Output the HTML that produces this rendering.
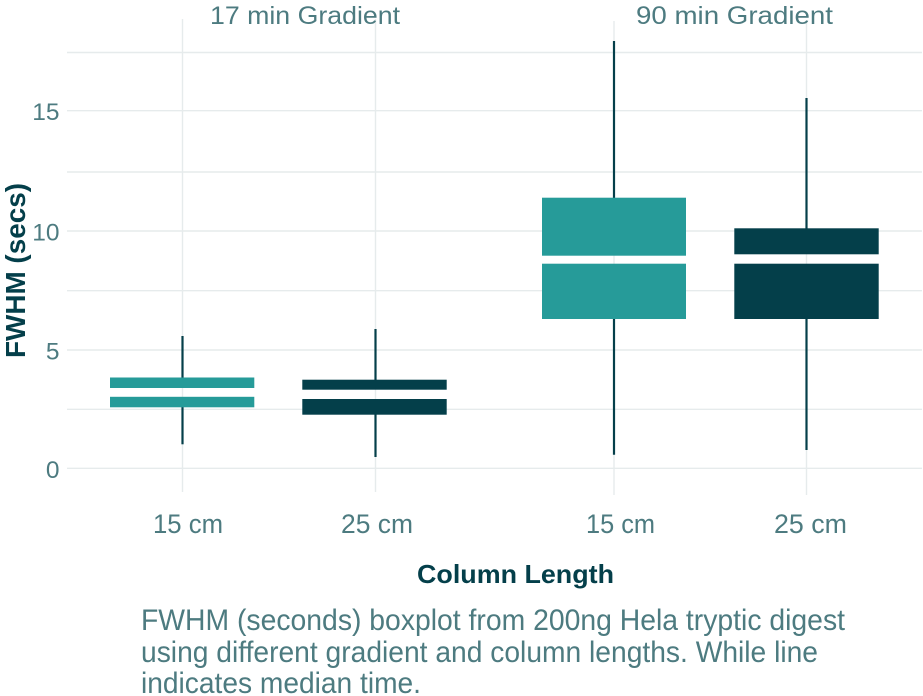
<!DOCTYPE html>
<html>
<head>
<meta charset="utf-8">
<style>
html,body{margin:0;padding:0;background:#ffffff;}
svg{display:block;}
text{font-family:"Liberation Sans",sans-serif;}
</style>
</head>
<body>
<svg width="923" height="696" viewBox="0 0 923 696" xmlns="http://www.w3.org/2000/svg">
<rect width="923" height="696" fill="#ffffff"/>
<g stroke="#e6ebec" stroke-width="1.4" fill="none">
<line x1="67" y1="52.5" x2="922" y2="52.5"/>
<line x1="67" y1="110.7" x2="922" y2="110.7"/>
<line x1="67" y1="172" x2="922" y2="172"/>
<line x1="67" y1="231" x2="922" y2="231"/>
<line x1="67" y1="290.7" x2="922" y2="290.7"/>
<line x1="67" y1="350" x2="922" y2="350"/>
<line x1="67" y1="409.3" x2="922" y2="409.3"/>
<line x1="67" y1="468.3" x2="922" y2="468.3"/>
<line x1="182.5" y1="19" x2="182.5" y2="492"/>
<line x1="375.5" y1="19" x2="375.5" y2="492"/>
<line x1="614" y1="21" x2="614" y2="495"/>
<line x1="806.5" y1="21" x2="806.5" y2="495"/>
</g>
<g stroke="#053f4a" stroke-width="2.2">
<line x1="182.5" y1="336" x2="182.5" y2="378"/>
<line x1="182.5" y1="407" x2="182.5" y2="444.3"/>
<line x1="375.5" y1="329" x2="375.5" y2="380"/>
<line x1="375.5" y1="414" x2="375.5" y2="457"/>
<line x1="614" y1="41" x2="614" y2="198"/>
<line x1="614" y1="318" x2="614" y2="454.7"/>
<line x1="806.5" y1="98" x2="806.5" y2="229"/>
<line x1="806.5" y1="318" x2="806.5" y2="450"/>
</g>
<g fill="#269b99">
<rect x="110" y="377.5" width="144.3" height="10.5"/>
<rect x="110" y="396.8" width="144.3" height="10.5"/>
<rect x="542" y="197.7" width="144" height="58"/>
<rect x="542" y="263.7" width="144" height="55.3"/>
</g>
<g fill="#043f4a">
<rect x="302.3" y="379.7" width="144.4" height="10"/>
<rect x="302.3" y="399" width="144.4" height="15.7"/>
<rect x="734.3" y="228.3" width="144.4" height="26"/>
<rect x="734.3" y="263.7" width="144.4" height="55.3"/>
</g>
<g fill="#4d7b80" font-size="24.5" text-anchor="end">
<text x="59.5" y="120">15</text>
<text x="59.5" y="240.5">10</text>
<text x="59.5" y="359.5">5</text>
<text x="59.5" y="478">0</text>
</g>
<g fill="#4d7b80" font-size="25">
<text x="210" y="24" textLength="190" lengthAdjust="spacingAndGlyphs">17 min Gradient</text>
<text x="636" y="24" textLength="197" lengthAdjust="spacingAndGlyphs">90 min Gradient</text>
</g>
<g fill="#4d7b80" font-size="27">
<text x="153" y="533" textLength="70" lengthAdjust="spacingAndGlyphs">15 cm</text>
<text x="341" y="533" textLength="72" lengthAdjust="spacingAndGlyphs">25 cm</text>
<text x="586" y="533" textLength="69" lengthAdjust="spacingAndGlyphs">15 cm</text>
<text x="774" y="533" textLength="73" lengthAdjust="spacingAndGlyphs">25 cm</text>
</g>
<text x="417" y="583" fill="#043f4a" font-size="26" font-weight="bold" textLength="197" lengthAdjust="spacingAndGlyphs">Column Length</text>
<text transform="translate(25,358) rotate(-90)" x="0" y="0" fill="#043f4a" font-size="28" font-weight="bold" textLength="175" lengthAdjust="spacingAndGlyphs">FWHM (secs)</text>
<g fill="#4d7b80" font-size="29.5">
<text x="141" y="630" textLength="704" lengthAdjust="spacingAndGlyphs">FWHM (seconds) boxplot from 200ng Hela tryptic digest</text>
<text x="141" y="662" textLength="677" lengthAdjust="spacingAndGlyphs">using different gradient and column lengths. While line</text>
<text x="141" y="693" textLength="280" lengthAdjust="spacingAndGlyphs">indicates median time.</text>
</g>
</svg>
</body>
</html>
